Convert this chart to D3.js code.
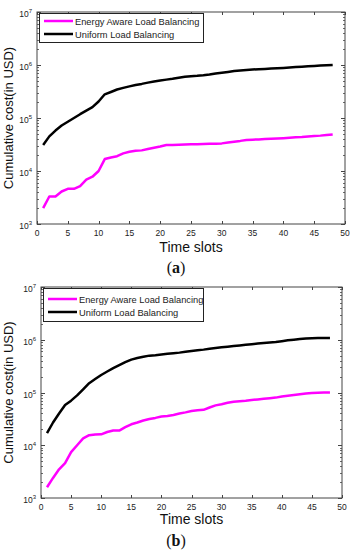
<!DOCTYPE html>
<html><head><meta charset="utf-8">
<script src="https://cdn.jsdelivr.net/npm/d3@7"></script>
<style>html,body{margin:0;padding:0;background:#fff}svg{display:block}</style>
</head><body>
<script>
const timeSlots = d3.range(1, 49);
const xTicks = [0,5,10,15,20,25,30,35,40,45,50];
const yTickExps = [3,4,5,6,7];
const seriesNames = ["Energy Aware Load Balancing", "Uniform Load Balancing"];
const seriesColors = ["#ff00ff", "#000000"];
const panelLabels = ["a", "b"];

const energyA = [2000,3300,3300,4100,4600,4600,5200,6900,7800,10000,16800,18000,19000,21500,23000,24200,24500,26000,27500,29000,31000,31000,31200,31500,31800,32000,32200,32500,32700,33200,34500,35800,37000,38500,39000,39500,40000,40500,41000,41700,42500,43500,44000,45000,45800,46500,48000,49000];
const uniformA = [31000,45000,58000,72000,85000,100000,118000,138000,160000,205000,280000,310000,345000,370000,395000,420000,440000,465000,490000,510000,530000,550000,575000,600000,615000,625000,640000,660000,690000,715000,740000,770000,790000,805000,820000,835000,845000,855000,865000,880000,895000,915000,930000,945000,960000,975000,990000,1005000];
const energyB = [1600,2400,3500,4600,7400,10000,13500,15500,16000,16100,17800,19000,19000,22000,25000,27000,29500,31500,33000,35000,36000,37500,40000,42000,44500,46000,47000,52000,57000,60000,64000,67000,68500,70000,72000,74000,76000,78000,80000,84000,87000,90000,93000,96000,97500,98500,99500,100000];
const uniformB = [17000,27000,40000,58000,70000,88000,115000,150000,180000,215000,250000,290000,330000,375000,420000,450000,475000,500000,510000,525000,540000,555000,570000,590000,610000,630000,650000,675000,700000,720000,740000,760000,780000,800000,820000,845000,865000,885000,905000,940000,975000,1000000,1030000,1060000,1070000,1075000,1075000,1075000];

const W = 353, H = 550;
const svg = d3.select("body").append("svg").attr("width", W).attr("height", H);

const panels = [
  {x0:37, x1:345, y0:12, y1:224, leg:{x:39,y:13,w:164,h:29,r1:21,r2:34}, series:[energyA, uniformA], label:panelLabels[0], xlabY:252, capY:273},
  {x0:41, x1:342, y0:287, y1:498, leg:{x:43,y:288,w:160,h:33,r1:299,r2:312}, series:[energyB, uniformB], label:panelLabels[1], xlabY:524, capY:546}
];

const font = "'Liberation Sans', Arial, sans-serif";

panels.forEach(p => {
  const g = svg.append("g");
  const x = d3.scaleLinear().domain([0,50]).range([p.x0, p.x1]);
  const y = d3.scaleLog().domain([1e3,1e7]).range([p.y1, p.y0]);
  const axisCol = "#444";

  g.append("rect").attr("x", p.x0).attr("y", p.y0).attr("width", p.x1-p.x0).attr("height", p.y1-p.y0)
    .attr("fill","#fff").attr("stroke", axisCol).attr("stroke-width", 1);

  xTicks.forEach(t => {
    const xx = Math.round(x(t)) + 0.5;
    g.append("line").attr("x1",xx).attr("x2",xx).attr("y1",p.y1).attr("y2",p.y1-3).attr("stroke",axisCol);
    g.append("line").attr("x1",xx).attr("x2",xx).attr("y1",p.y0).attr("y2",p.y0+3).attr("stroke",axisCol);
    g.append("text").attr("x", x(t)).attr("y", p.y1+12).attr("text-anchor","middle")
      .attr("font-family", font).attr("font-size", 8.5).attr("fill","#222").text(t);
  });

  for (let e = 3; e < 7; e++) {
    for (let m = 2; m <= 9; m++) {
      const yy = Math.round(y(m*Math.pow(10,e))) + 0.5;
      g.append("line").attr("x1",p.x0).attr("x2",p.x0+2).attr("y1",yy).attr("y2",yy).attr("stroke",axisCol).attr("stroke-width",0.8);
      g.append("line").attr("x1",p.x1).attr("x2",p.x1-2).attr("y1",yy).attr("y2",yy).attr("stroke",axisCol).attr("stroke-width",0.8);
    }
  }
  yTickExps.forEach(e => {
    const yy = Math.round(y(Math.pow(10,e))) + 0.5;
    g.append("line").attr("x1",p.x0).attr("x2",p.x0+4).attr("y1",yy).attr("y2",yy).attr("stroke",axisCol);
    g.append("line").attr("x1",p.x1).attr("x2",p.x1-4).attr("y1",yy).attr("y2",yy).attr("stroke",axisCol);
    const t = g.append("text").attr("x", p.x0-5).attr("y", yy+4).attr("text-anchor","end")
      .attr("font-family", font).attr("font-size", 8.5).attr("fill","#222");
    t.append("tspan").text("10");
    t.append("tspan").attr("dy", -4).attr("font-size", 6).text(e);
  });

  const line = d3.line().x((d,i) => x(timeSlots[i])).y(d => y(d));
  [1,0].forEach(k => {
    g.append("path").datum(p.series[k]).attr("d", line).attr("fill","none")
      .attr("stroke", seriesColors[k]).attr("stroke-width", 2.5).attr("stroke-linejoin","round");
  });

  const L = p.leg;
  g.append("rect").attr("x", L.x+0.5).attr("y", L.y+0.5).attr("width", L.w).attr("height", L.h)
    .attr("fill","#fff").attr("stroke","#222").attr("stroke-width",1);
  [L.r1, L.r2].forEach((ry, k) => {
    g.append("line").attr("x1", L.x+5).attr("x2", L.x+34).attr("y1", ry).attr("y2", ry)
      .attr("stroke", seriesColors[k]).attr("stroke-width", 2.5);
    g.append("text").attr("x", L.x+36).attr("y", ry+3.5).attr("font-family", font).attr("font-size", 9.3)
      .attr("fill","#222").text(seriesNames[k]);
  });

  const cx = (p.x0+p.x1)/2, cy = (p.y0+p.y1)/2;
  g.append("text").attr("x", cx).attr("y", p.xlabY).attr("text-anchor","middle")
    .attr("font-family", font).attr("font-size", 14).attr("fill","#111").text("Time slots");
  g.append("text").attr("transform", `translate(13,${cy}) rotate(-90)`).attr("text-anchor","middle")
    .attr("font-family", font).attr("font-size", 13).attr("fill","#111").text("Cumulative cost(in USD)");

  const c = g.append("text").attr("x", 176).attr("y", p.capY).attr("text-anchor","middle")
    .attr("font-family", "'Liberation Serif', 'Times New Roman', serif").attr("font-size", 16).attr("fill","#111");
  c.append("tspan").text("(");
  c.append("tspan").attr("font-weight","bold").text(p.label);
  c.append("tspan").text(")");
});
</script>
</body></html>
